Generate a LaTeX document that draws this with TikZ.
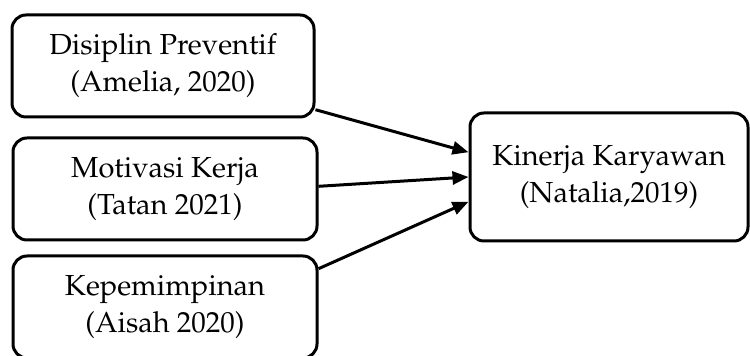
\documentclass[tikz,border=0pt]{standalone}
\usepackage[T1]{fontenc}
\usepackage{mathpazo}
\usetikzlibrary{arrows.meta}
\begin{document}
\begin{tikzpicture}[x=0.5pt,y=-0.5pt,
  box/.style={draw, line width=1.5pt, rounded corners=7pt, align=center,
    font=\fontsize{14.5}{18.5}\selectfont, inner sep=0pt},
  link/.style={line width=1.5pt, -{Triangle[length=8pt,width=6.5pt]}}]
\useasboundingbox (0,0) rectangle (750,356);
\node[box, minimum width=151pt, minimum height=51pt] (b1) at (163,66)
  {Disiplin Preventif\\(Amelia, 2020)};
\node[box, minimum width=152pt, minimum height=51pt] (b2) at (165,189)
  {Motivasi Kerja\\(Tatan 2021)};
\node[box, minimum width=152pt, minimum height=51pt] (b3) at (165,307)
  {Kepemimpinan\\(Aisah 2020)};
\node[box, minimum width=139pt, minimum height=64pt] (r) at (609,177)
  {Kinerja Karyawan\\(Natalia,2019)};
\draw[link] (b1.-16) -- (r.170);
\draw[link] (b2.1) -- (r.west);
\draw[link] (b3.14) -- (r.-170);
\end{tikzpicture}
\end{document}
